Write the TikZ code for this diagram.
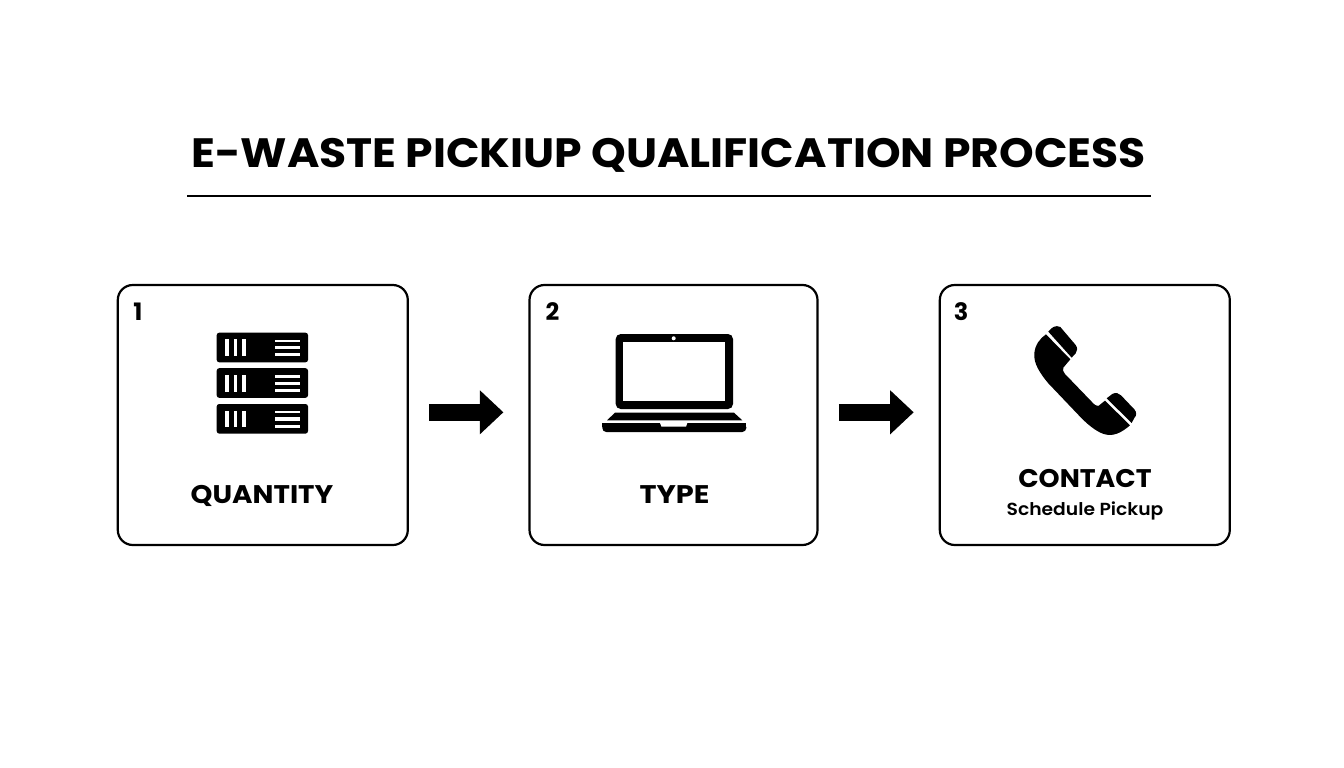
\documentclass[tikz,border=0pt]{standalone}
\usepackage{fontspec}
\usepackage{graphicx}
\setmainfont{Poppins}[BoldFont=* Bold]
\newfontfamily\subfont{Poppins SemiBold}
\usetikzlibrary{arrows.meta}
\tikzset{
  stepbox/.style={draw=black,line width=2.2pt,rounded corners=15pt,fill=white},
  flow/.style={draw=black,line width=17.3pt,-{Triangle[length=23.5pt,width=42.5pt]},shorten <=20.3pt,shorten >=25pt},
  num/.style={anchor=base,inner sep=0,font=\fontsize{24}{24}\selectfont\bfseries},
  lab/.style={anchor=base,inner sep=0,font=\fontsize{25.5}{26}\selectfont\bfseries},
  sub/.style={anchor=base,inner sep=0,font=\fontsize{17.5}{18}\selectfont\subfont},
  ink/.style={fill=black,draw=none},
  paper/.style={fill=white,draw=none}
}
\newcommand{\serverunit}[1]{%
  \fill[ink,rounded corners=2.5pt] (216.7,#1) rectangle (308,#1+29.6);
  \fill[paper] (225,#1+6.6) rectangle (228.7,#1+23.3);
  \fill[paper] (233.7,#1+6.6) rectangle (237,#1+23.3);
  \fill[paper] (242.3,#1+6.6) rectangle (246.3,#1+23.3);
  \fill[paper] (275,#1+6.8) rectangle (300,#1+9.4);
  \fill[paper] (275,#1+13.3) rectangle (300,#1+16.6);
  \fill[paper] (275,#1+20.6) rectangle (300,#1+23.6);
}
\begin{document}
\begin{tikzpicture}[x=1pt,y=-1pt]
\useasboundingbox (0,0) rectangle (1344,768);
\fill[white] (0,0) rectangle (1344,768);
% title
\node[anchor=base,inner sep=0,font=\fontsize{41}{42}\selectfont\bfseries] (title) at (668.5,167) {\scalebox{1.075}[1]{E-WASTE PICKIUP QUALIFICATION PROCESS}};
\coordinate (ruleL) at (187,196); \coordinate (ruleR) at (1151,196);
\draw[line width=2.2pt] (ruleL) -- (ruleR);
% boxes
\node[stepbox,minimum width=290pt,minimum height=260pt,inner sep=0] (box1) at (262.8,415) {};
\node[stepbox,minimum width=288pt,minimum height=260pt,inner sep=0] (box2) at (673.5,415) {};
\node[stepbox,minimum width=290pt,minimum height=260pt,inner sep=0] (box3) at (1084.8,415) {};
% arrows
\draw[flow] ([yshift=2.7pt]box1.east) -- ([yshift=2.7pt]box2.west);
\draw[flow] ([yshift=2.7pt]box2.east) -- ([yshift=2.7pt]box3.west);
% numbers
\node[num] (n1) at (138,320) {1};
\node[num] (n2) at (552.5,320) {2};
\node[num] (n3) at (961,320) {3};
% labels
\node[lab] (q) at (262,503) {\scalebox{1.09}[1]{QUANTITY}};
\node[lab] (t) at (674.5,503) {\scalebox{1.13}[1]{TYPE}};
\node[lab] (c) at (1085,487) {\scalebox{1.05}[1]{CONTACT}};
\node[sub] (s) at (1085,515) {\scalebox{1.07}[1]{Schedule Pickup}};
% servers
\serverunit{332.7}
\serverunit{368.2}
\serverunit{404}
% laptop
\fill[ink,rounded corners=5pt] (615.7,334) rectangle (733,409);
\fill[paper] (623.3,342.3) rectangle (725,401.3);
\fill[paper] (673.7,338.3) circle (2pt);
\fill[ink] (615,412.7) -- (734,412.7) -- (742.3,420.3) -- (607,420.3) -- cycle;
\fill[ink,rounded corners=4pt] (602.3,423.3) -- (602.3,432) -- (746.3,432) -- (746.3,423.3) -- cycle;
\fill[ink] (602.3,423.3) rectangle (746.3,427);
\fill[paper] (660,423) -- (661.5,426.7) -- (686,426.7) -- (687.3,423) -- cycle;
% phone
\begin{scope}[shift={(935,280)},x=0.3333pt,y=-0.3333pt]
  \fill[ink] (340,155) .. controls (350,142) and (362,134) .. (376,141)
    -- (422,195) .. controls (428,204) and (428,212) .. (422,220) -- (410,233) -- cycle;
  \fill[ink] (333,163) -- (406,238) -- (385,263)
    .. controls (382,270) and (385,275) .. (390,282)
    -- (470,365) .. controls (478,375) and (485,378) .. (490,378)
    -- (510,362) -- (585,436)
    .. controls (560,458) and (535,470) .. (510,463)
    .. controls (490,458) and (465,440) .. (440,415)
    -- (340,310) .. controls (315,280) and (295,250) .. (298,220)
    .. controls (300,195) and (315,175) .. (333,163) -- cycle;
  \fill[ink] (515,355) -- (532,342) .. controls (542,336) and (552,340) .. (558,346)
    -- (598,388) .. controls (606,397) and (605,407) .. (598,414) -- (590,429) -- cycle;
\end{scope}
\end{tikzpicture}
\end{document}
